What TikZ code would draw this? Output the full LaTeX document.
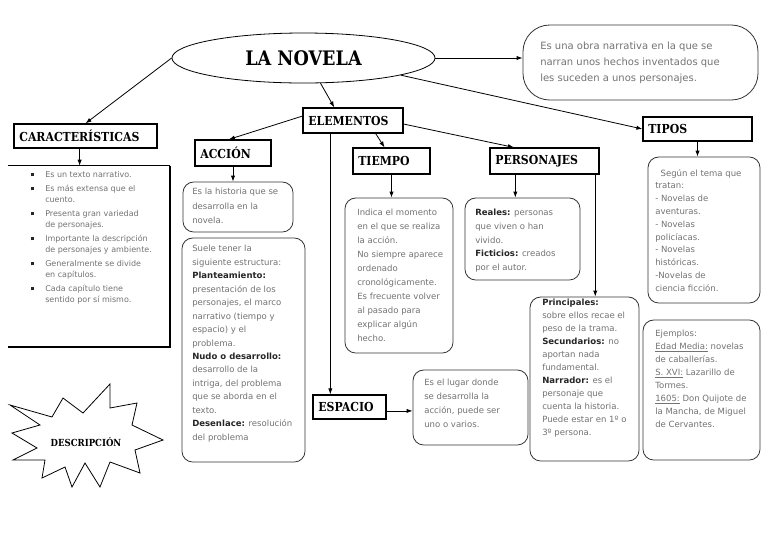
\documentclass[tikz,border=0pt]{standalone}
\usepackage{fontspec}
\setmainfont{DejaVu Sans}
\newfontfamily\hdfont{DejaVu Serif}[FakeStretch=0.88]
\usetikzlibrary{arrows.meta,shapes.geometric}
\newcommand\lb[1]{\textcolor{black!85}{\textbf{#1}}}
\newcommand\bul{\makebox[10.5pt][l]{\textcolor{black!85}{\rule[0.8pt]{2.2pt}{2.2pt}}}}
\newcommand\ind{\hspace*{10.5pt}}
\begin{document}
\begin{tikzpicture}[x=0.75pt,y=-0.75pt,
  sz/.style 2 args={minimum width=#1*0.75pt, minimum height=#2*0.75pt},
  hbx/.style={draw, line width=0.9pt, inner xsep=4pt, inner ysep=0pt, align=left, font=\hdfont\bfseries\fontsize{9.3}{11}\selectfont},
  rbx/.style={draw=black!80, line width=0.6pt, rounded corners=8pt, inner sep=0pt},
  txt/.style={anchor=north west, inner sep=0pt, align=left, text=black!55},
  arr/.style={-{Latex[length=4.5pt,width=3.2pt]}, line width=0.6pt},
]
\fill[white] (0,0) rectangle (768,544);
\useasboundingbox (0,0) rectangle (768,544);

% main ellipse and definition
\node[ellipse, draw, line width=0.6pt, sz={263}{50}, inner sep=0pt, font=\hdfont\bfseries\fontsize{15}{18}\selectfont] (novela) at (303.5,58) {LA NOVELA};
\node[rbx, rounded corners=20pt, sz={235}{75}] (def) at (640.5,62.5) {};
\node[txt, font=\fontsize{7.5}{12}\selectfont] (deft) at (540,42) {Es una obra narrativa en la que se\\narran unos hechos inventados que\\les suceden a unos personajes.};

% headings
\node[hbx, text width=99.25pt, minimum height=18pt] (caract) at (85.5,136) {CARACTERÍSTICAS};
\node[hbx, text width=67pt, minimum height=18.75pt] (elementos) at (353,120.5) {ELEMENTOS};
\node[hbx, text width=49pt, minimum height=19.5pt] (accion) at (233,153) {ACCIÓN};
\node[hbx, text width=49.75pt, minimum height=19.5pt] (tiempo) at (391.5,161) {TIEMPO};
\node[hbx, text width=73.75pt, minimum height=19.5pt] (personajes) at (544.5,161) {PERSONAJES};
\node[hbx, text width=46.75pt, minimum height=18pt] (espacio) at (349.5,407) {ESPACIO};
\node[hbx, text width=73.75pt, minimum height=18pt] (tipos) at (697.5,129) {TIPOS};

% characteristics list (open box)
\node[sz={162}{181}, inner sep=0pt] (cl) at (89,256.5) {};
\draw[line width=0.9pt] (cl.north west) -- (cl.north east);
\draw[line width=1.3pt] (cl.north east) -- (cl.south east) -- (cl.south west);
\node[txt, font=\fontsize{6}{8.25}\selectfont] (clt) at (31,171) {%
\bul Es un texto narrativo.\\[2.25pt]
\bul Es más extensa que el\\
\ind cuento.\\[2.25pt]
\bul Presenta gran variedad\\
\ind de personajes.\\[2.25pt]
\bul Importante la descripción\\
\ind de personajes y ambiente.\\[2.25pt]
\bul Generalmente se divide\\
\ind en capítulos.\\[2.25pt]
\bul Cada capítulo tiene\\
\ind sentido por sí mismo.};

% rounded content boxes
\node[rbx, sz={110}{50}] (accbox) at (238,207) {};
\node[rbx, sz={123}{224}] (estbox) at (243.5,350) {};
\node[rbx, sz={108}{155}] (tiebox) at (399,275.5) {};
\node[rbx, sz={115}{82}] (perbox) at (522.5,239) {};
\node[rbx, sz={109}{164}] (pribox) at (584.5,379) {};
\node[rbx, sz={115}{75}] (espbox) at (470.5,407.5) {};
\node[rbx, sz={112}{146}] (tipbox) at (704,230) {};
\node[rbx, sz={117}{140}] (ejebox) at (701.5,390) {};

% texts
\node[txt, font=\fontsize{6.4}{10.9}\selectfont] (acct) at (192,188) {Es la historia que se\\desarrolla en la\\novela.};
\node[txt, font=\fontsize{6.4}{10.1}\selectfont] (estt) at (192,245) {Suele tener la\\siguiente estructura:\\\lb{Planteamiento:}\\presentación de los\\personajes, el marco\\narrativo (tiempo y\\espacio) y el\\problema.\\\lb{Nudo o desarrollo:}\\desarrollo de la\\intriga, del problema\\que se aborda en el\\texto.\\\lb{Desenlace:} resolución\\del problema};
\node[txt, font=\fontsize{6.4}{10.5}\selectfont] (tiet) at (357,209) {Indica el momento\\en el que se realiza\\la acción.\\No siempre aparece\\ordenado\\cronológicamente.\\Es frecuente volver\\al pasado para\\explicar algún\\hecho.};
\node[txt, font=\fontsize{6.4}{10.3}\selectfont] (pert) at (475,209) {\lb{Reales:} personas\\que viven o han\\vivido.\\\lb{Ficticios:} creados\\por el autor.};
\node[txt, font=\fontsize{6.4}{9.75}\selectfont] (prit) at (542,299) {\lb{Principales:}\\sobre ellos recae el\\peso de la trama.\\\lb{Secundarios:} no\\aportan nada\\fundamental.\\\lb{Narrador:} es el\\personaje que\\cuenta la historia.\\Puede estar en 1º o\\3º persona.};
\node[txt, font=\fontsize{6.4}{10.5}\selectfont] (espt) at (424,379) {Es el lugar donde\\se desarrolla la\\acción, puede ser\\uno o varios.};
\node[txt, font=\fontsize{6.4}{9.6}\selectfont] (tipt) at (655,169) {\hspace*{4pt}Según el tema que\\tratan:\\- Novelas de\\aventuras.\\- Novelas\\policíacas.\\- Novelas\\históricas.\\-Novelas de\\ciencia ficción.};
\node[txt, font=\fontsize{6.4}{9.75}\selectfont] (ejet) at (655,330) {Ejemplos:\\\underline{Edad Media:} novelas\\de caballerías.\\\underline{S. XVI:} Lazarillo de\\Tormes.\\\underline{1605:} Don Quijote de\\la Mancha, de Miguel\\de Cervantes.};

% starburst
\draw[line width=0.6pt] (10,405) -- (52,417) -- (63,398) -- (83,413) -- (110,384) -- (110,408) -- (137,403) -- (132,425) -- (163,440) -- (135,450) -- (140,473) -- (110,462) -- (100,487) -- (85,463) -- (72,487) -- (65,467) -- (42,478) -- (45,460) -- (13,460) -- (37,448) -- (12,433) -- (40,425) -- cycle;
\node[inner sep=0pt, font=\hdfont\bfseries\fontsize{7.3}{9}\selectfont] (desc) at (86,442) {DESCRIPCIÓN};

% connectors
\draw[arr] (novela.west) -- (caract.north);
\draw[arr] (novela.east) -- (novela.east -| def.west);
\draw[arr] (novela.-56) -- (elementos.145);
\draw[arr] (novela.-10) -- (tipos.west);
\draw[arr] (caract.-115) -- (caract.-115 |- cl.north);
\draw[arr] (elementos.175) -- (accion.107);
\draw[arr] (elementos.-30) -- (tiempo.117);
\draw[arr] (elementos.-4) -- (personajes.156);
\draw[arr] (elementos.-150) -- (elementos.-150 |- espacio.north);
\draw[arr] (accion.south) -- (accion.south |- accbox.north);
\draw[arr] (tiempo.south) -- (tiempo.south |- tiebox.north);
\draw[arr] (personajes.-155) -- (personajes.-155 |- perbox.north);
\draw[arr] (personajes.-15) -- (personajes.-15 |- pribox.north);
\draw[arr] (tipos.south) -- (tipos.south |- tipbox.north);
\draw[arr] (espacio.-6) -- (espacio.-6 -| espbox.west);
\end{tikzpicture}
\end{document}
